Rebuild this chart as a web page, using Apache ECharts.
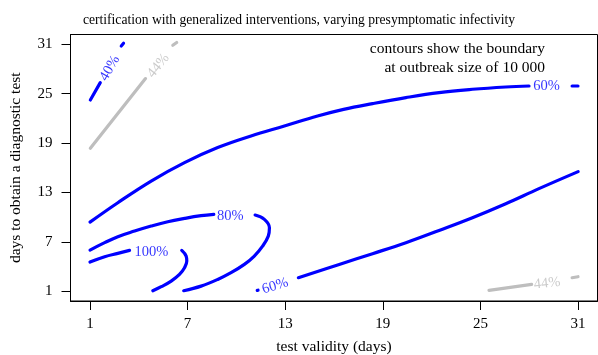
<!DOCTYPE html>
<html>
<head>
<meta charset="utf-8">
<script src="https://cdn.jsdelivr.net/npm/echarts@6/dist/echarts.min.js"></script>
<style>
html,body{margin:0;padding:0;background:#fff;}
#chart{width:598px;height:355px;}
</style>
</head>
<body>
<div id="chart"></div>
<script>
// ---- data ----
const tickValues = [1, 7, 13, 19, 25, 31];

// 40% contour (blue), split around its label
const c40a = [[1.02, 24.24], [1.63, 26.35]];
const c40b = [[2.92, 30.81], [3.06, 31.13]];
// 44% contour top-left (gray)
const c44a = [[1.02, 18.36], [4.41, 26.84]];
const c44b = [[6.09, 30.89], [6.33, 31.22]];
// 60% contour upper (blue)
const c60a = [[1.0, 9.39], [2.71, 11.75], [4.76, 14.38], [6.81, 16.62], [8.85, 18.45], [10.9, 19.86],
  [12.95, 21.07], [14.99, 22.29], [16.59, 23.1], [18.37, 23.8], [20.42, 24.53], [22.46, 25.14],
  [24.51, 25.54], [26.56, 25.82], [27.99, 25.94]];
const c60b = [[30.64, 25.94], [31.0, 25.94]];
// 80% contour (blue)
const c80a = [[1.0, 5.99], [1.9, 6.89], [2.71, 7.62], [3.74, 8.3], [4.76, 8.91], [5.78, 9.44],
  [6.81, 9.84], [7.83, 10.17], [8.61, 10.33]];
const c80b = [[11.15, 10.25], [11.72, 9.72], [12.03, 8.71], [11.96, 7.69], [11.61, 6.47],
  [11.1, 5.26], [10.49, 4.25], [9.67, 3.24], [8.85, 2.42], [7.83, 1.61], [6.76, 1.05]];
// 100% contour (blue)
const c100a = [[1.0, 4.53], [1.9, 5.18], [2.71, 5.59], [3.43, 5.95]];
const c100b = [[6.64, 5.95], [6.91, 5.26], [6.95, 4.65], [6.81, 3.85], [6.5, 3.03],
  [5.99, 2.22], [5.38, 1.54], [4.86, 1.05]];
// 60% contour lower right (blue)
const c60c = [[11.28, 1.09], [11.33, 1.11]];
const c60d = [[13.81, 2.63], [16.32, 4.25], [18.37, 5.55], [20.42, 6.89], [22.46, 8.38],
  [24.51, 9.93], [26.56, 11.63], [28.6, 13.46], [31.01, 15.53]];
// 44% contour lower right (gray)
const c44c = [[25.53, 1.09], [28.15, 1.82]];
const c44d = [[30.64, 2.63], [31.0, 2.75]];

// contour labels: text and position (data coords)
const labelTexts = ['40%', '44%', '60%', '80%', '100%', '60%', '44%'];
const labelPoints = [[2.22, 28.1], [5.2, 28.4], [29.06, 25.87], [9.63, 10.1], [4.78, 5.72], [12.38, 1.62], [29.1, 1.95]];
const labelIsGray = [false, true, false, false, false, false, true];
const labelAngles = [60, 51, 0, 0, 0, 17, 6];

// ---- chart ----
const BLUE = '#0000FF';
const GRAY = '#BEBEBE';
const SERIF = '"Liberation Serif", "DejaVu Serif", serif';

function lineSeries(data, color) {
  return {
    type: 'line', data: data, smooth: 0.4, showSymbol: false, symbol: 'none',
    silent: true, animation: false,
    lineStyle: { color: color, width: 3.2, cap: 'round', join: 'round' }
  };
}

const series = [
  lineSeries(c40a, BLUE), lineSeries(c40b, BLUE),
  lineSeries(c44a, GRAY), lineSeries(c44b, GRAY),
  lineSeries(c60a, BLUE), lineSeries(c60b, BLUE),
  lineSeries(c80a, BLUE), lineSeries(c80b, BLUE),
  lineSeries(c100a, BLUE), lineSeries(c100b, BLUE),
  lineSeries(c60c, BLUE), lineSeries(c60d, BLUE),
  lineSeries(c44c, GRAY), lineSeries(c44d, GRAY)
];

series.push({
  type: 'scatter', symbolSize: 0, silent: true, animation: false,
  data: labelPoints.map((p, i) => ({
    value: p,
    label: {
      show: true, position: 'inside', formatter: labelTexts[i],
      rotate: labelAngles[i],
      color: labelIsGray[i] ? GRAY : BLUE,
      fontFamily: SERIF, fontSize: 14.5
    }
  }))
});

const axisCommon = {
  type: 'value', min: -0.2, max: 32.2,
  splitLine: { show: false },
  axisLine: { show: true, onZero: false, lineStyle: { color: '#000', width: 1 } },
  axisTick: { show: true, inside: false, length: 9, customValues: tickValues, lineStyle: { color: '#000' } },
  axisLabel: { customValues: tickValues, color: '#000', fontFamily: SERIF, fontSize: 15 },
  nameLocation: 'middle',
  nameTextStyle: { color: '#000', fontFamily: SERIF, fontSize: 15.5 }
};

const option = {
  animation: false,
  title: {
    text: 'certification with generalized interventions, varying presymptomatic infectivity',
    left: 'center', top: 8,
    textStyle: { fontFamily: SERIF, fontSize: 13.6, fontWeight: 'normal', color: '#000' }
  },
  grid: {
    left: 70.5, top: 34.5, width: 527, height: 266.5,
    outerBoundsMode: 'none', containLabel: false,
    show: true, borderColor: '#000', borderWidth: 1, backgroundColor: 'transparent'
  },
  xAxis: Object.assign({}, axisCommon, {
    name: 'test validity (days)', nameGap: 38,
    axisLabel: Object.assign({}, axisCommon.axisLabel, { margin: 16 })
  }),
  yAxis: Object.assign({}, axisCommon, {
    name: 'days to obtain a diagnostic test', nameGap: 47, nameRotate: 90,
    axisLabel: Object.assign({}, axisCommon.axisLabel, { margin: 18 })
  }),
  graphic: [{
    type: 'text', right: 53, top: 41,
    style: { text: 'contours show the boundary', fill: '#000', font: '15.5px ' + SERIF }
  }, {
    type: 'text', right: 53, top: 60,
    style: { text: 'at outbreak size of 10 000', fill: '#000', font: '15.5px ' + SERIF }
  }],
  series: series
};

const chart = echarts.init(document.getElementById('chart'), null, { renderer: 'canvas' });
chart.setOption(option);
</script>
</body>
</html>
